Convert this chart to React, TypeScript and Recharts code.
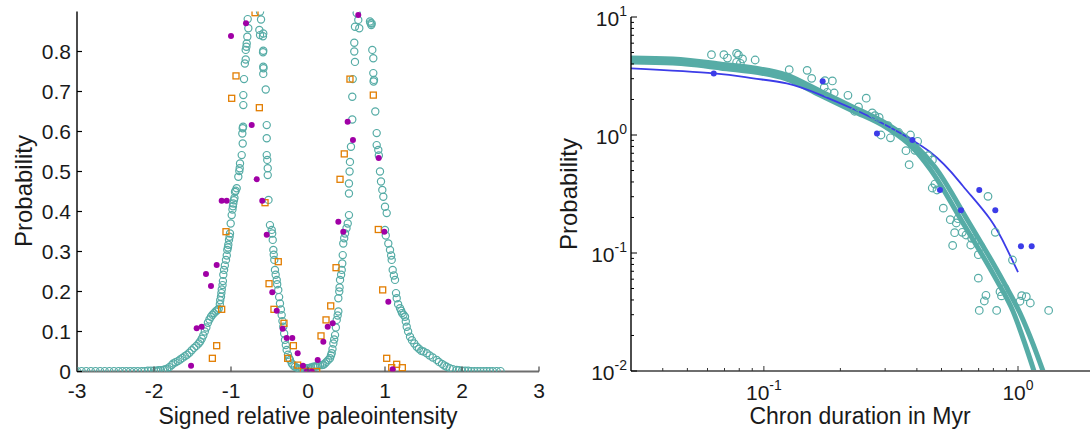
import React from "react";
import { ComposedChart, Scatter, Line, XAxis, YAxis } from "recharts";

const TEAL = "#56aca6";
const MAGENTA = "#a000a6";
const ORANGE = "#e27d00";
const BLUE = "#3c3ce8";
const FONT = "'Liberation Sans', Arial, Helvetica, sans-serif";

// ---- left panel: signed relative paleointensity ----
const leftTicksX = [-3, -2, -1, 0, 1, 2, 3];
const leftTicksY = [0, 0.1, 0.2, 0.3, 0.4, 0.5, 0.6, 0.7, 0.8];

// model distribution (open teal circles)
const modelPts: [number, number][] = [
  [-3.0, 0.001], [-2.94, 0.001], [-2.88, 0.001], [-2.82, 0.001], [-2.76, 0.001], [-2.7, 0.001],
  [-2.64, 0.001], [-2.58, 0.001], [-2.52, 0.001], [-2.46, 0.001], [-2.41, 0.001], [-2.36, 0.001],
  [-2.31, 0.001], [-2.26, 0.001], [-2.21, 0.001], [-2.16, 0.001], [-2.12, 0.001], [-2.08, 0.002],
  [-2.04, 0.002], [-2.0, 0.002], [-1.97, 0.002], [-1.94, 0.003], [-1.91, 0.003], [-1.88, 0.004],
  [-1.86, 0.005], [-1.83, 0.007], [-1.8, 0.011], [-1.77, 0.016], [-1.75, 0.02], [-1.72, 0.023],
  [-1.69, 0.026], [-1.66, 0.03], [-1.63, 0.034], [-1.6, 0.038], [-1.57, 0.042], [-1.54, 0.047],
  [-1.51, 0.053], [-1.48, 0.059], [-1.45, 0.064], [-1.42, 0.07], [-1.4, 0.075], [-1.38, 0.082],
  [-1.36, 0.09], [-1.34, 0.1], [-1.32, 0.11], [-1.3, 0.122], [-1.28, 0.13], [-1.26, 0.137],
  [-1.24, 0.142], [-1.22, 0.146], [-1.2, 0.15], [-1.18, 0.153], [-1.16, 0.157], [-1.145, 0.168],
  [-1.14, 0.178], [-1.13, 0.187], [-1.125, 0.196], [-1.12, 0.205], [-1.11, 0.216], [-1.105, 0.226],
  [-1.1, 0.242], [-1.09, 0.254], [-1.08, 0.265], [-1.065, 0.279], [-1.055, 0.29], [-1.048, 0.304],
  [-1.04, 0.31], [-1.035, 0.317], [-1.026, 0.329], [-1.018, 0.337], [-1.013, 0.345], [-1.004, 0.37],
  [-0.991, 0.391], [-0.981, 0.405], [-0.975, 0.413], [-0.97, 0.42], [-0.962, 0.428], [-0.955, 0.434],
  [-0.948, 0.449], [-0.94, 0.452], [-0.926, 0.458], [-0.905, 0.487], [-0.892, 0.501], [-0.887, 0.508],
  [-0.883, 0.52], [-0.861, 0.541], [-0.848, 0.57], [-0.853, 0.595], [-0.848, 0.608], [-0.843, 0.612],
  [-0.84, 0.666], [-0.84, 0.691], [-0.831, 0.731], [-0.82, 0.77], [-0.809, 0.78], [-0.809, 0.804],
  [-0.8, 0.812], [-0.796, 0.82], [-0.788, 0.837], [-0.775, 0.858], [-0.783, 0.881],
  [-0.623, 0.8995], [-0.61, 0.88], [-0.632, 0.854], [-0.623, 0.841], [-0.581, 0.845], [-0.585, 0.838],
  [-0.581, 0.802], [-0.584, 0.798], [-0.581, 0.762], [-0.578, 0.758], [-0.581, 0.744], [-0.549, 0.705],
  [-0.536, 0.616], [-0.536, 0.583], [-0.536, 0.541], [-0.529, 0.529], [-0.523, 0.508], [-0.523, 0.491],
  [-0.513, 0.429], [-0.494, 0.366], [-0.471, 0.354], [-0.465, 0.345], [-0.458, 0.329], [-0.45, 0.304],
  [-0.445, 0.292], [-0.438, 0.279], [-0.429, 0.254], [-0.42, 0.242], [-0.406, 0.229], [-0.4, 0.218],
  [-0.386, 0.204], [-0.375, 0.186], [-0.364, 0.17], [-0.352, 0.155], [-0.342, 0.141], [-0.332, 0.126],
  [-0.321, 0.112], [-0.31, 0.095], [-0.299, 0.079], [-0.288, 0.066], [-0.277, 0.054], [-0.26, 0.042],
  [-0.245, 0.033], [-0.234, 0.029], [-0.21, 0.02], [-0.19, 0.015], [-0.169, 0.012], [-0.14, 0.009],
  [-0.12, 0.007], [-0.104, 0.006], [-0.08, 0.006], [-0.06, 0.007], [-0.04, 0.007], [-0.02, 0.008],
  [0.0, 0.008], [0.02, 0.009], [0.04, 0.01], [0.069, 0.012], [0.09, 0.012], [0.11, 0.013],
  [0.13, 0.014], [0.156, 0.016], [0.18, 0.016], [0.199, 0.017], [0.22, 0.02], [0.24, 0.024],
  [0.264, 0.029], [0.286, 0.033], [0.298, 0.04], [0.308, 0.0455], [0.318, 0.056], [0.329, 0.07],
  [0.34, 0.08], [0.351, 0.091], [0.362, 0.11], [0.373, 0.129], [0.385, 0.14], [0.394, 0.15],
  [0.394, 0.183], [0.406, 0.2], [0.41, 0.21], [0.416, 0.229], [0.43, 0.242], [0.438, 0.254],
  [0.445, 0.27], [0.451, 0.291], [0.458, 0.32], [0.47, 0.333], [0.481, 0.345], [0.5, 0.358],
  [0.516, 0.37], [0.532, 0.391], [0.532, 0.445], [0.532, 0.47], [0.54, 0.5], [0.545, 0.524],
  [0.558, 0.562], [0.575, 0.63], [0.575, 0.687], [0.581, 0.731], [0.61, 0.774], [0.601, 0.8],
  [0.601, 0.822], [0.61, 0.862], [0.666, 0.858], [0.653, 0.879], [0.632, 0.896],
  [0.805, 0.875], [0.812, 0.871], [0.827, 0.87], [0.822, 0.866], [0.835, 0.804], [0.848, 0.783],
  [0.848, 0.746], [0.857, 0.729], [0.852, 0.725], [0.874, 0.65], [0.892, 0.596], [0.892, 0.566],
  [0.913, 0.554], [0.92, 0.54], [0.935, 0.5], [0.948, 0.475], [0.965, 0.454], [0.978, 0.437],
  [1.0, 0.412], [1.022, 0.396], [1.0, 0.354], [1.01, 0.34], [1.043, 0.32], [1.065, 0.304],
  [1.08, 0.29], [1.087, 0.279], [1.1, 0.254], [1.115, 0.24], [1.13, 0.229], [1.143, 0.196],
  [1.152, 0.183], [1.17, 0.168], [1.195, 0.158], [1.21, 0.152], [1.221, 0.146], [1.24, 0.142],
  [1.26, 0.137], [1.27, 0.125], [1.282, 0.112], [1.3, 0.1], [1.325, 0.087], [1.35, 0.078],
  [1.38, 0.07], [1.412, 0.062], [1.44, 0.057], [1.47, 0.052], [1.5, 0.05], [1.542, 0.0455],
  [1.58, 0.04], [1.62, 0.035], [1.671, 0.029], [1.7, 0.024], [1.74, 0.019], [1.77, 0.015],
  [1.801, 0.012], [1.84, 0.008], [1.88, 0.006], [1.931, 0.004], [1.96, 0.003], [2.0, 0.002],
  [2.04, 0.002], [2.08, 0.002], [2.12, 0.001], [2.16, 0.001], [2.2, 0.001], [2.24, 0.001],
  [2.28, 0.001], [2.32, 0.001], [2.36, 0.001], [2.4, 0.001], [2.45, 0.001], [2.5, 0.001],
];

// filled magenta dots
const magentaPts: [number, number][] = [
  [-1.0, 0.839], [-0.805, 0.8705], [-0.731, 0.616], [-0.666, 0.4805], [-1.121, 0.427], [-1.056, 0.427],
  [-0.594, 0.427], [-1.186, 0.266], [-1.325, 0.244], [-1.26, 0.214], [-1.446, 0.108], [-1.381, 0.112],
  [-1.519, 0.0145], [-0.536, 0.342], [-0.464, 0.198], [-0.406, 0.152], [-0.329, 0.107], [-0.277, 0.084],
  [-0.204, 0.084], [-0.134, 0.0455], [-0.065, 0.0145], [-0.017, 0.0], [0.048, 0.0], [0.126, 0.029],
  [0.199, 0.0745], [0.256, 0.112], [0.321, 0.1205], [0.394, 0.3745], [0.458, 0.3495], [0.515, 0.6245],
  [0.584, 0.579], [0.653, 0.891], [0.918, 0.534], [0.991, 0.3495], [1.043, 0.1745], [1.1, 0.0055],
];

// open orange squares
const orangePts: [number, number][] = [
  [-0.688, 0.897], [-0.935, 0.739], [-0.991, 0.683], [-0.632, 0.6595], [-0.558, 0.422], [0.545, 0.731],
  [0.848, 0.691], [0.471, 0.544], [0.416, 0.4805], [-1.065, 0.3495], [-1.121, 0.1555], [-1.186, 0.0645],
  [-1.242, 0.033], [-0.386, 0.2745], [-0.506, 0.2195], [-0.442, 0.1555], [-0.312, 0.1205], [-0.19, 0.0645],
  [-0.264, 0.033], [-0.134, 0.016], [-0.06, 0.0], [0.017, 0.0], [0.113, 0.0], [0.364, 0.2595],
  [0.295, 0.164], [0.234, 0.129], [0.169, 0.089], [0.97, 0.204], [1.022, 0.033], [1.152, 0.018],
  [1.225, 0.0095], [1.087, 0.0095], [0.913, 0.355],
];

// ---- right panel: chron durations (log-log) ----
const rightTicksX = [0.04, 0.05, 0.06, 0.07, 0.08, 0.09, 0.1, 0.2, 0.3, 0.4, 0.5, 0.6, 0.7, 0.8, 0.9, 1];
const rightTicksY = [
  0.01, 0.02, 0.03, 0.04, 0.05, 0.06, 0.07, 0.08, 0.09,
  0.1, 0.2, 0.3, 0.4, 0.5, 0.6, 0.7, 0.8, 0.9,
  1, 2, 3, 4, 5, 6, 7, 8, 9, 10,
];

const chronPts: [number, number][] = [
  [0.0622, 4.79], [0.0696, 4.79], [0.0719, 4.49], [0.0781, 4.92], [0.0794, 4.78], [0.0824, 4.41],
  [0.0781, 4.13], [0.0808, 4.05], [0.0924, 4.32], [0.1258, 3.58], [0.148, 3.53], [0.1542, 3.02],
  [0.1739, 2.89], [0.186, 2.87], [0.1728, 2.53], [0.1775, 2.3], [0.1891, 2.27], [0.2142, 2.17],
  [0.2528, 2.05], [0.2357, 1.73], [0.2276, 1.59], [0.2669, 1.54], [0.2735, 1.46], [0.2842, 1.41],
  [0.2889, 1.0], [0.3077, 1.2], [0.3148, 0.947], [0.3391, 1.05], [0.3774, 1.0], [0.3815, 0.839],
  [0.4028, 0.884], [0.3623, 0.736], [0.393, 0.742], [0.3729, 0.56], [0.4434, 0.668], [0.4606, 0.614],
  [0.4711, 0.384], [0.4598, 0.3555], [0.4799, 0.342], [0.5082, 0.24], [0.5414, 0.1915], [0.5716, 0.1796],
  [0.5805, 0.1953], [0.5632, 0.1486], [0.6035, 0.1498], [0.6241, 0.1421], [0.6518, 0.1169], [0.5532, 0.1158],
  [0.698, 0.0967], [0.715, 0.1131], [0.762, 0.302], [0.814, 0.1498], [0.9513, 0.0872], [0.698, 0.0612],
  [0.748, 0.0438], [0.737, 0.0392], [0.704, 0.0326], [0.824, 0.0326], [0.8494, 0.047], [0.861, 0.0433],
  [0.889, 0.0502], [1.034, 0.0435], [1.078, 0.0426], [1.118, 0.0377], [1.018, 0.039], [1.32, 0.0326],
  [0.657, 0.1332],
];

const blueDots: [number, number][] = [
  [0.0635, 3.32], [0.1703, 2.85], [0.2786, 1.03], [0.3842, 0.907], [0.4931, 0.342], [0.704, 0.342],
  [0.5965, 0.23], [0.814, 0.23], [1.027, 0.114], [1.132, 0.114],
];

// teal model fits (two nearly overlapping curves)
const fitA: [number, number][] = [
  [0.03, 4.15], [0.0438, 4.07], [0.0671, 3.7], [0.123, 2.98], [0.166, 2.18], [0.224, 1.6],
  [0.305, 1.15], [0.386, 0.776], [0.451, 0.515], [0.607, 0.18], [0.827, 0.058], [0.956, 0.032],
  [1.066, 0.0169], [1.156, 0.01],
];
const fitB: [number, number][] = [
  [0.03, 4.49], [0.0438, 4.41], [0.0671, 4.0], [0.123, 3.22], [0.166, 2.36], [0.224, 1.73],
  [0.305, 1.24], [0.386, 0.856], [0.471, 0.536], [0.636, 0.187], [0.873, 0.058], [1.018, 0.031],
  [1.146, 0.0169], [1.254, 0.01],
];
// blue fit
const blueFit: [number, number][] = [
  [0.03, 3.67], [0.0635, 3.33], [0.0908, 3.02], [0.123, 2.74], [0.166, 2.2], [0.225, 1.66],
  [0.286, 1.29], [0.451, 0.718], [0.607, 0.37], [0.776, 0.194], [0.905, 0.108], [1.0, 0.069],
];

const toXY = (a: [number, number][]) => a.map(([x, y]) => ({ x, y }));

const TXT = "#1a1a1a";
const TICK_FS = 21;
const TITLE_FS = 23;

const OpenCircle = (r: number) => (p: any) =>
  <circle cx={p.cx} cy={p.cy} r={r} fill="none" stroke={TEAL} strokeWidth={1.2} />;
const Dot = (color: string, r: number) => (p: any) =>
  <circle cx={p.cx} cy={p.cy} r={r} fill={color} stroke="none" />;
const OpenSquare = (p: any) =>
  <rect x={p.cx - 3} y={p.cy - 3} width={6} height={6} fill="none" stroke={ORANGE} strokeWidth={1.3} />;

// linear ticks, drawn inward
const LinTickX = (p: any) => (
  <g>
    <line x1={p.x} y1={p.y} x2={p.x} y2={p.y - 5} stroke="#555" strokeWidth={1.3} />
    <text x={p.x} y={p.y + 26} textAnchor="middle" fontSize={TICK_FS} fontFamily={FONT} fill={TXT}>
      {p.payload.value}
    </text>
  </g>
);
const LinTickY = (p: any) => (
  <g>
    <line x1={p.x} y1={p.y} x2={p.x + 5} y2={p.y} stroke="#000" strokeWidth={1.2} />
    <text x={p.x - 6} y={p.y + 7.5} textAnchor="end" fontSize={TICK_FS} fontFamily={FONT} fill={TXT}>
      {p.payload.value}
    </text>
  </g>
);

const isDecade = (v: number) => Math.abs(Math.log10(v) - Math.round(Math.log10(v))) < 1e-6;

const LogTickX = (p: any) => {
  const v = p.payload.value;
  const major = isDecade(v);
  return (
    <g>
      <line x1={p.x} y1={p.y} x2={p.x} y2={p.y - (major ? 5 : 3)} stroke="#333" strokeWidth={1} />
      {major && (
        <text x={p.x} y={p.y + 29} textAnchor="middle" fontSize={TICK_FS} fontFamily={FONT} fill={TXT}>
          <tspan>10</tspan>
          <tspan dy={-10} fontSize={14}>{String(Math.round(Math.log10(v)))}</tspan>
        </text>
      )}
    </g>
  );
};
const LogTickY = (p: any) => {
  const v = p.payload.value;
  const major = isDecade(v);
  return (
    <g>
      <line x1={p.x} y1={p.y} x2={p.x + (major ? 6 : 3)} y2={p.y} stroke="#000" strokeWidth={1} />
      {major && (
        <text x={p.x - 4} y={p.y + 9} textAnchor="end" fontSize={TICK_FS} fontFamily={FONT} fill={TXT}>
          <tspan>10</tspan>
          <tspan dy={-10} fontSize={14}>{String(Math.round(Math.log10(v)))}</tspan>
        </text>
      )}
    </g>
  );
};

export default function App() {
  return (
    <div style={{ position: "absolute", left: 0, top: 0, width: 1090, height: 432, background: "#fff" }}>
      <div style={{ position: "absolute", left: 0, top: 0 }}>
        <ComposedChart width={545} height={432} margin={{ top: 11.5, right: 6, bottom: 20.5, left: 17 }}>
          <XAxis
            type="number"
            dataKey="x"
            domain={[-3, 3]}
            ticks={leftTicksX}
            interval={0}
            height={40}
            tickSize={0}
            tickMargin={0}
            tickLine={false}
            axisLine={{ stroke: "#6e6e6e", strokeWidth: 1.8 }}
            tick={LinTickX}
            allowDataOverflow
          />
          <YAxis
            type="number"
            dataKey="y"
            domain={[0, 0.9]}
            ticks={leftTicksY}
            interval={0}
            width={60}
            tickSize={0}
            tickMargin={0}
            tickLine={false}
            axisLine={{ stroke: "#000", strokeWidth: 1.4 }}
            tick={LinTickY}
            allowDataOverflow
          />
          <Scatter data={toXY(modelPts)} dataKey="y" shape={OpenCircle(3.6)} isAnimationActive={false} />
          <Scatter data={toXY(orangePts)} dataKey="y" shape={OpenSquare} isAnimationActive={false} />
          <Scatter data={toXY(magentaPts)} dataKey="y" shape={Dot(MAGENTA, 3)} isAnimationActive={false} />
        </ComposedChart>
      </div>
      <div style={{ position: "absolute", left: 545, top: 0 }}>
        <ComposedChart width={545} height={432} margin={{ top: 17, right: 0, bottom: 21, left: 26 }}>
          <XAxis
            type="number"
            dataKey="x"
            scale="log"
            domain={[0.03, 1.92]}
            ticks={rightTicksX}
            interval={0}
            height={40}
            tickSize={0}
            tickMargin={0}
            tickLine={false}
            axisLine={{ stroke: "#6e6e6e", strokeWidth: 1.8 }}
            tick={LogTickX}
            allowDataOverflow
          />
          <YAxis
            type="number"
            dataKey="y"
            scale="log"
            domain={[0.01, 10]}
            ticks={rightTicksY}
            interval={0}
            width={60}
            tickSize={0}
            tickMargin={0}
            tickLine={false}
            axisLine={{ stroke: "#000", strokeWidth: 1.4 }}
            tick={LogTickY}
            allowDataOverflow
          />
          <Line data={toXY(fitA)} dataKey="y" type="monotone" stroke={TEAL} strokeWidth={5} dot={false} isAnimationActive={false} />
          <Line data={toXY(fitB)} dataKey="y" type="monotone" stroke={TEAL} strokeWidth={5} dot={false} isAnimationActive={false} />
          <Line data={toXY(blueFit)} dataKey="y" type="natural" stroke={BLUE} strokeWidth={1.8} dot={false} isAnimationActive={false} />
          <Scatter data={toXY(chronPts)} dataKey="y" shape={OpenCircle(3.8)} isAnimationActive={false} />
          <Scatter data={toXY(blueDots)} dataKey="y" shape={Dot(BLUE, 3)} isAnimationActive={false} />
        </ComposedChart>
      </div>
      <svg width={1090} height={432} style={{ position: "absolute", left: 0, top: 0, pointerEvents: "none" }}>
        <g fontFamily={FONT} fill={TXT} fontSize={TITLE_FS}>
          <text x={32} y={191} textAnchor="middle" fontSize={24} transform="rotate(-90 32 191)">Probability</text>
          <text x={308} y={424} textAnchor="middle">Signed relative paleointensity</text>
          <text x={577} y={194} textAnchor="middle" fontSize={24} transform="rotate(-90 577 194)">Probability</text>
          <text x={860} y={424} textAnchor="middle">Chron duration in Myr</text>
        </g>
      </svg>
    </div>
  );
}
